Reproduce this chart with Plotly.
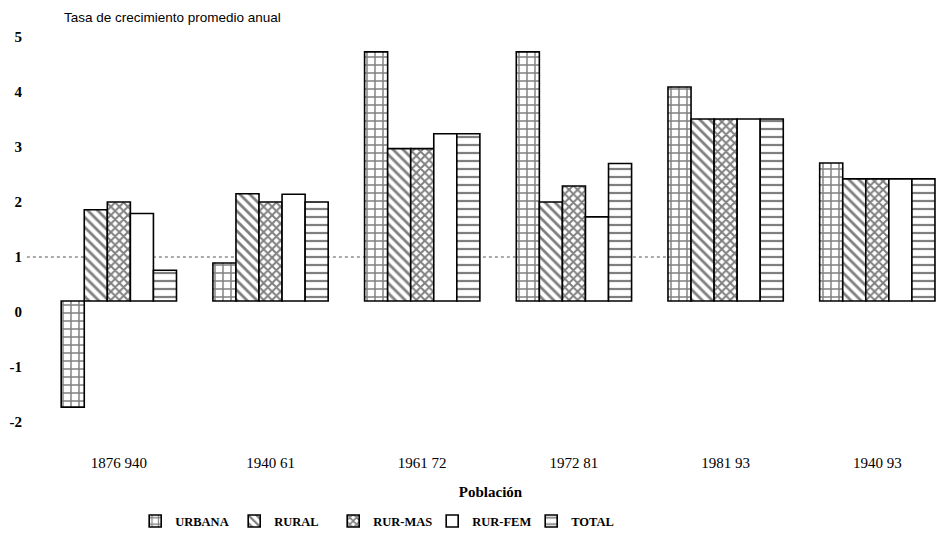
import plotly.graph_objects as go

periods = ["1876 940", "1940 61", "1961 72", "1972 81", "1981 93", "1940 93"]
urbana = [-1.73, 0.89, 4.73, 4.73, 4.09, 2.71]
rural = [1.86, 2.15, 2.97, 2.00, 3.51, 2.42]
rur_mas = [2.00, 2.00, 2.97, 2.29, 3.51, 2.42]
rur_fem = [1.79, 2.14, 3.24, 1.73, 3.51, 2.42]
total = [0.76, 2.00, 3.24, 2.70, 3.51, 2.42]
baseline = 0.2  # bars in the original rise from this level
y_ticks = [5, 4, 3, 2, 1, 0, -1, -2]

series = [
    ("URBANA", urbana, "+", 8, 0.33),
    ("RURAL", rural, "\\", 7, 0.4),
    ("RUR-MAS", rur_mas, "x", 6, 0.55),
    ("RUR-FEM", rur_fem, "", 8, 0.2),
    ("TOTAL", total, "-", 8, 0.28),
]

fig = go.Figure()
for name, vals, shape, size, sol in series:
    fig.add_trace(go.Bar(
        x=periods,
        y=[v - baseline for v in vals],
        base=baseline,
        name=name,
        marker=dict(
            color="white",
            line=dict(color="black", width=1.6),
            pattern=dict(shape=shape, size=size, solidity=sol,
                         fgcolor="black", bgcolor="white", fillmode="overlay"),
        ),
    ))

fig.add_shape(type="line", xref="paper", yref="y", x0=-0.018, x1=0.70, y0=1, y1=1,
              line=dict(color="#555", width=1, dash="dot"), layer="below")

fig.add_annotation(text="Tasa de crecimiento promedio anual", xref="paper", yref="paper",
                   x=0.021, y=1.047, xanchor="left", yanchor="middle", showarrow=False,
                   font=dict(family="Liberation Sans", size=13.5, color="black"))

fig.update_layout(
    width=938, height=534,
    margin=dict(l=43, r=0, t=37, b=90, autoexpand=False),
    paper_bgcolor="white", plot_bgcolor="white",
    barmode="group", bargap=0.24, bargroupgap=0,
    font=dict(family="Liberation Serif", color="black"),
    legend=dict(orientation="h", x=0.103, xanchor="left", y=-0.19, yanchor="middle",
                font=dict(family="Liberation Serif", size=12.5, color="black", weight="bold"),
                itemwidth=30, traceorder="normal", entrywidth=54),
    xaxis=dict(range=[-0.5, 5.4], showgrid=False, showline=False, zeroline=False,
               automargin=False, ticklabelstandoff=8,
               tickfont=dict(family="Liberation Serif", size=15, color="black"),
               title=dict(text="Población", standoff=16,
                          font=dict(family="Liberation Serif", size=15, color="black", weight="bold"))),
    yaxis=dict(range=[-2.4, 5], tickvals=y_ticks, ticktext=[str(t) for t in y_ticks],
               showgrid=False, showline=False, zeroline=False, automargin=False,
               ticklabelstandoff=20,
               tickfont=dict(family="Liberation Serif", size=15, color="black", weight="bold")),
)

fig.write_html("out.html", config={"displayModeBar": False},
               post_script="document.body.style.margin='0px';")
